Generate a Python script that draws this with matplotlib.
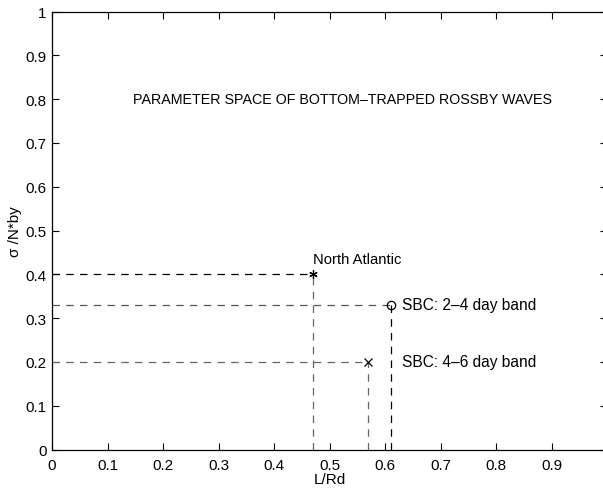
import matplotlib
matplotlib.use("Agg")
import matplotlib.pyplot as plt

# Observed parameter pairs (L/Rd, sigma/N*by)
names = ["North Atlantic", "SBC: 2\u20134 day band", "SBC: 4\u20136 day band"]
x_vals = [0.47, 0.61, 0.57]
y_vals = [0.40, 0.33, 0.20]
markers = [(6, 2, 0), "o", "x"]
h_colors = ["black", "#555555", "#666666"]
v_colors = ["#666666", "black", "#666666"]

x_ticks = [0, 0.1, 0.2, 0.3, 0.4, 0.5, 0.6, 0.7, 0.8, 0.9, 1]
x_tick_labels = ["0", "0.1", "0.2", "0.3", "0.4", "0.5", "0.6", "0.7", "0.8", "0.9", ""]
y_ticks = [0, 0.1, 0.2, 0.3, 0.4, 0.5, 0.6, 0.7, 0.8, 0.9, 1]
y_tick_labels = ["0", "0.1", "0.2", "0.3", "0.4", "0.5", "0.6", "0.7", "0.8", "0.9", "1"]

plt.rcParams["font.family"] = ["Liberation Sans", "DejaVu Sans"]

fig = plt.figure(figsize=(6.03, 4.89), dpi=100)
ax = fig.add_axes([52 / 603, 38.5 / 489, 555 / 603, 438 / 489])

dash = (0, (6, 5))
for x, y, m, hc, vc in zip(x_vals, y_vals, markers, h_colors, v_colors):
    ax.plot([0, x], [y, y], color=hc, lw=0.9, linestyle=dash)
    ax.plot([x, x], [0, y], color=vc, lw=0.9, linestyle=dash)
    ax.plot([x], [y], marker=m, color="black", markersize=6,
            markerfacecolor="none", markeredgewidth=0.9, linestyle="none")

ax.text(x_vals[0], y_vals[0] + 0.02, names[0], fontsize=10.6, ha="left", va="bottom")
ax.text(x_vals[1] + 0.02, y_vals[1], names[1], fontsize=11.2, ha="left", va="center")
ax.text(x_vals[1] + 0.02, y_vals[2], names[2], fontsize=11.2, ha="left", va="center")

ax.text(0.146, 0.80, "PARAMETER SPACE OF BOTTOM\u2013TRAPPED ROSSBY WAVES",
        fontsize=10.3, ha="left", va="center")

ax.set_xlim(0, 1)
ax.set_ylim(0, 1)
ax.set_xticks(x_ticks)
ax.set_xticklabels(x_tick_labels, fontsize=11)
ax.set_yticks(y_ticks)
ax.set_yticklabels(y_tick_labels, fontsize=11)
ax.tick_params(direction="in", length=5, width=0.8, top=True, right=True)
ax.tick_params(axis="x", pad=6)
ax.tick_params(axis="y", pad=4)
for s in ax.spines.values():
    s.set_linewidth(0.9)

ax.set_xlabel("L/Rd", fontsize=11, labelpad=0)
ax.set_ylabel("\u03c3 /N*by", fontsize=11)
ax.yaxis.set_label_coords(-0.054, 0.5)

fig.savefig("out.png", dpi=100)
